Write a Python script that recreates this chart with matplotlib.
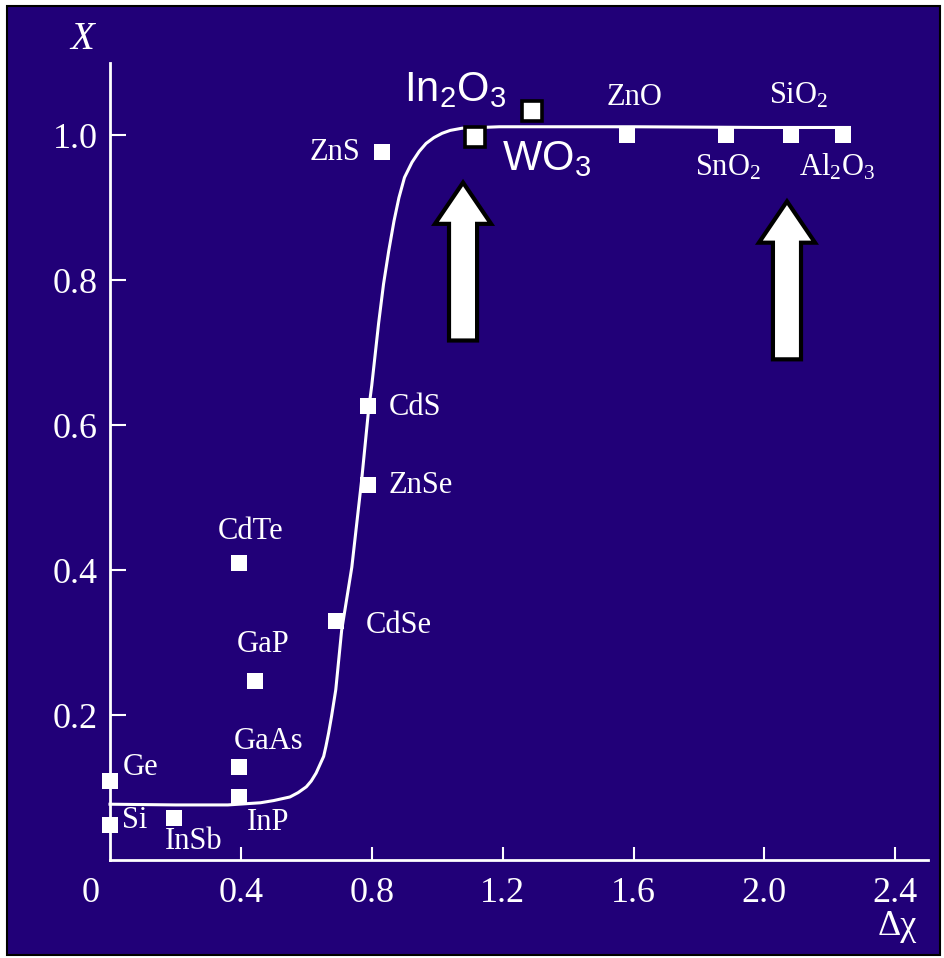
import matplotlib
matplotlib.use('Agg')
import matplotlib.pyplot as plt
from matplotlib.patches import FancyArrow, Rectangle

plt.rcParams['font.family'] = ['Liberation Serif', 'DejaVu Serif']
plt.rcParams['mathtext.fontset'] = 'custom'
plt.rcParams['mathtext.rm'] = 'Liberation Serif'
plt.rcParams['mathtext.sf'] = 'Liberation Sans'
plt.rcParams['mathtext.it'] = 'Liberation Serif:italic'

BLUE = '#210078'

# fitted curve
curve_dchi = [0.0, 0.2, 0.36, 0.46, 0.50, 0.55, 0.575, 0.60, 0.615, 0.63, 0.64,
              0.653, 0.66, 0.668, 0.677, 0.69, 0.708, 0.739, 0.769, 0.79, 0.80,
              0.821, 0.836, 0.852, 0.868, 0.883, 0.90, 0.923, 0.945, 0.966,
              0.99, 1.015, 1.04, 1.076, 1.19, 1.6, 2.0, 2.26]
curve_x = [0.077, 0.076, 0.076, 0.079, 0.082, 0.087, 0.093, 0.101, 0.109, 0.120,
           0.130, 0.143, 0.157, 0.175, 0.198, 0.235, 0.317, 0.404, 0.524, 0.62,
           0.655, 0.741, 0.795, 0.841, 0.882, 0.914, 0.942, 0.963, 0.978, 0.989,
           0.997, 1.003, 1.007, 1.010, 1.012, 1.012, 1.011, 1.011]

# compounds (white squares)
names = ['Ge', 'Si', 'InSb', 'InP', 'GaAs', 'GaP', 'CdTe', 'CdSe', 'ZnSe',
         'CdS', 'ZnS', 'ZnO', 'SnO2', 'SiO2', 'Al2O3']
dchi = [0.0, 0.0, 0.196, 0.395, 0.395, 0.444, 0.395, 0.69, 0.79,
        0.788, 0.83, 1.58, 1.884, 2.08, 2.24]
xval = [0.109, 0.048, 0.058, 0.087, 0.128, 0.247, 0.41, 0.33, 0.517,
        0.626, 0.977, 1.001, 1.001, 1.001, 1.001]

# added oxides (black-edged squares)
oxide_names = ['In2O3', 'WO3']
oxide_dchi = [1.114, 1.29]
oxide_x = [0.998, 1.034]

xticks = [0.4, 0.8, 1.2, 1.6, 2.0, 2.4]
yticks = [0.2, 0.4, 0.6, 0.8, 1.0]

fig = plt.figure(figsize=(9.44, 9.58), dpi=100, facecolor='white')
fig.patches.append(Rectangle((7 / 944, 3 / 958), 933 / 944, 949 / 958,
                             transform=fig.transFigure, facecolor=BLUE,
                             edgecolor='black', lw=1.5, zorder=-1))
ax = fig.add_axes([110 / 944, 98 / 958, 818 / 944, 797 / 958])
ax.set_facecolor('none')
ax.set_xlim(0, 2.5)
ax.set_ylim(0, 1.1)

for s in ['top', 'right']:
    ax.spines[s].set_visible(False)
for s in ['left', 'bottom']:
    ax.spines[s].set_color('white')
    ax.spines[s].set_linewidth(2)

serif = 'Liberation Serif'
ax.set_xticks(xticks)
ax.set_xticklabels(['%.1f' % t for t in xticks])
ax.set_yticks(yticks)
ax.set_yticklabels(['%.1f' % t for t in yticks])
ax.tick_params(axis='x', direction='in', length=9.5, width=1.5, colors='white',
               pad=12, labelsize=26, labelfontfamily=serif)
ax.tick_params(axis='y', direction='in', length=11.5, width=1.5, colors='white',
               pad=9, labelsize=26, labelfontfamily=serif)
ax.annotate('0', xy=(0, 0), xycoords=('data', 'axes fraction'), xytext=(-14, -12),
            textcoords='offset points', ha='center', va='top',
            fontfamily=serif, fontsize=26, color='white')

ax.set_ylabel('X', rotation=0, fontfamily=serif, fontstyle='italic',
              fontsize=28, color='white', ha='center', va='center')
ax.yaxis.set_label_coords(-0.034, 1.029)
ax.set_xlabel('Δχ', fontfamily=serif, fontsize=26, color='white', va='center')
ax.xaxis.set_label_coords(0.962, -0.083)

# curve
ax.plot(curve_dchi, curve_x, color='white', lw=2.2, zorder=2, clip_on=False,
        solid_joinstyle='round')

# squares
ax.plot(dchi, xval, 's', color='white', ms=12, mew=0, zorder=3, clip_on=False)
ax.plot(oxide_dchi, oxide_x, 's', mfc='white', mec='black', ms=14, mew=2.6,
        zorder=4, clip_on=False)

# labels
labels = [
    ('Ge', 0.04, 0.128, 'left', 'center'),
    ('Si', 0.037, 0.055, 'left', 'center'),
    ('InSb', 0.169, 0.025, 'left', 'center'),
    ('InP', 0.417, 0.052, 'left', 'center'),
    ('GaAs', 0.484, 0.164, 'center', 'center'),
    ('GaP', 0.469, 0.298, 'center', 'center'),
    ('CdTe', 0.429, 0.454, 'center', 'center'),
    ('CdSe', 0.782, 0.323, 'left', 'center'),
    ('ZnSe', 0.852, 0.517, 'left', 'center'),
    ('CdS', 0.852, 0.625, 'left', 'center'),
    ('ZnS', 0.766, 0.977, 'right', 'center'),
    ('ZnO', 1.603, 1.052, 'center', 'center'),
    (r'SiO$_2$', 2.106, 1.044, 'center', 'baseline'),
    (r'SnO$_2$', 1.888, 0.945, 'center', 'baseline'),
    (r'Al$_2$O$_3$', 2.222, 0.945, 'center', 'baseline'),
]
for txt, x, y, ha, va in labels:
    ax.text(x, y, txt, fontfamily=serif, fontsize=22, color='white',
            ha=ha, va=va, zorder=5)

sans = 'Liberation Sans'
ax.text(0.898, 1.048, r'In$\mathsf{_2}$O$\mathsf{_3}$', fontfamily=sans,
        fontsize=30, color='white', ha='left', va='baseline', zorder=5)
ax.text(1.198, 0.952, r'WO$\mathsf{_3}$', fontfamily=sans,
        fontsize=30, color='white', ha='left', va='baseline', zorder=5)

# big arrows pointing at the oxides
for ax_x, tail in [(1.079, 0.717), (2.069, 0.691)]:
    arr = FancyArrow(ax_x, tail, 0, 0.218, width=0.0858, head_width=0.1716,
                     head_length=0.057, length_includes_head=True,
                     facecolor='white', edgecolor='black', lw=3,
                     joinstyle='miter', zorder=6)
    ax.add_patch(arr)

fig.savefig('out.png', dpi=100, facecolor=fig.get_facecolor())
